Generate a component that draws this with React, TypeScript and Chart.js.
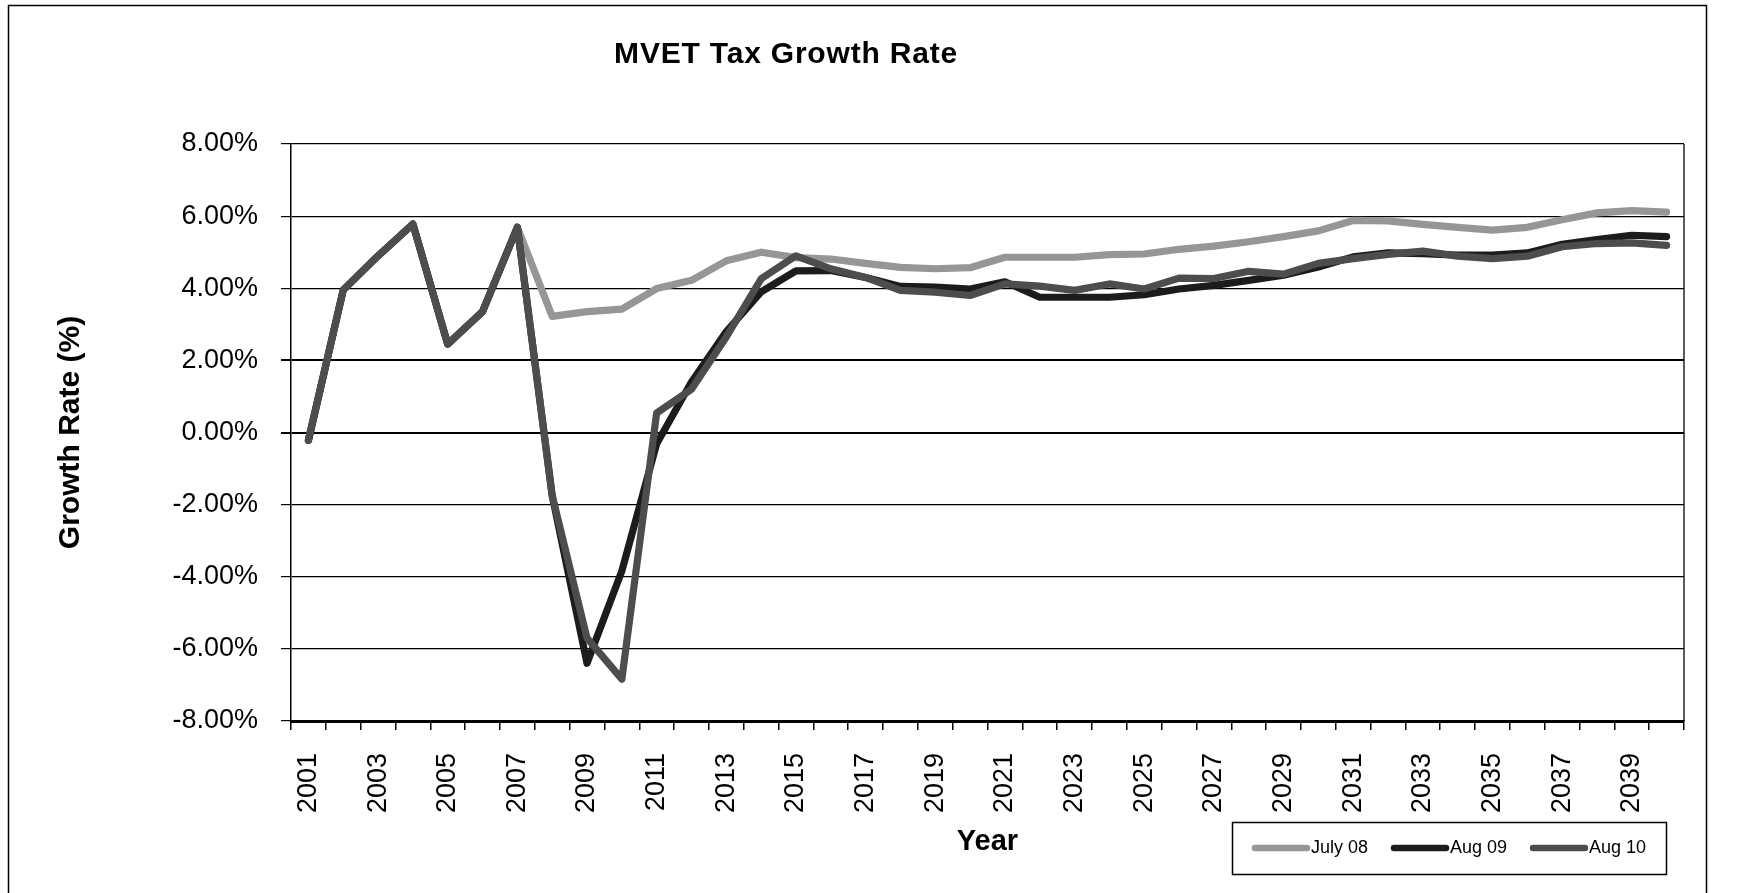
import React, { useEffect, useRef } from 'react';
import { Chart, registerables } from 'chart.js';

Chart.register(...registerables);

const FONT = '"Liberation Sans", Arial, Helvetica, sans-serif';

const chartTitle = 'MVET Tax Growth Rate';
const xTitle = 'Year';
const yTitle = 'Growth Rate (%)';

const years = [
  '2001', '2002', '2003', '2004', '2005', '2006', '2007', '2008', '2009', '2010',
  '2011', '2012', '2013', '2014', '2015', '2016', '2017', '2018', '2019', '2020',
  '2021', '2022', '2023', '2024', '2025', '2026', '2027', '2028', '2029', '2030',
  '2031', '2032', '2033', '2034', '2035', '2036', '2037', '2038', '2039', '2040',
];

const july08 = [
  -0.22, 3.95, 4.9, 5.78, 2.45, 3.35, 5.69, 3.22, 3.35, 3.42,
  3.99, 4.22, 4.76, 5.0, 4.85, 4.81, 4.69, 4.58, 4.54, 4.57,
  4.86, 4.86, 4.86, 4.93, 4.95, 5.08, 5.17, 5.29, 5.43, 5.59,
  5.88, 5.87, 5.77, 5.69, 5.61, 5.69, 5.9, 6.09, 6.15, 6.11,
];

const aug09 = [
  -0.22, 3.95, 4.9, 5.78, 2.45, 3.35, 5.69, -1.75, -6.4, -3.84,
  -0.31, 1.4, 2.8, 3.9, 4.48, 4.49, 4.3, 4.05, 4.03, 3.98,
  4.18, 3.75, 3.75, 3.75, 3.82, 3.98, 4.08, 4.22, 4.36, 4.59,
  4.87, 4.98, 4.96, 4.92, 4.92, 4.98, 5.22, 5.35, 5.47, 5.43,
];

const aug10 = [
  -0.22, 3.95, 4.9, 5.78, 2.45, 3.35, 5.69, -1.75, -5.7, -6.84,
  0.54, 1.2, 2.65, 4.26, 4.9, 4.54, 4.3, 3.94, 3.89, 3.8,
  4.12, 4.06, 3.94, 4.12, 3.98, 4.28, 4.27, 4.47, 4.39, 4.69,
  4.82, 4.94, 5.03, 4.89, 4.82, 4.89, 5.15, 5.24, 5.26, 5.19,
];

const seriesNames = ['July 08', 'Aug 09', 'Aug 10'];
const seriesColors = ['#969696', '#1c1c1c', '#4d4d4d'];

const yMin = -8;
const yMax = 8;
const yStep = 2;

const decorPlugin = {
  id: 'decor',
  beforeDraw(chart: any) {
    const ctx = chart.ctx;
    ctx.save();
    ctx.fillStyle = '#ffffff';
    ctx.fillRect(0, 0, chart.width, chart.height);
    ctx.strokeStyle = '#000';
    ctx.lineWidth = 1.5;
    ctx.beginPath();
    ctx.moveTo(8.5, chart.height + 5);
    ctx.lineTo(8.5, 5.5);
    ctx.lineTo(1706.5, 5.5);
    ctx.lineTo(1706.5, chart.height + 5);
    ctx.stroke();
    ctx.restore();
  },
  beforeDatasetsDraw(chart: any) {
    const ctx = chart.ctx;
    const { top, right, bottom } = chart.chartArea;
    ctx.save();
    ctx.strokeStyle = '#000';
    ctx.lineWidth = 1.3;
    ctx.beginPath();
    ctx.moveTo(right, top);
    ctx.lineTo(right, bottom);
    ctx.stroke();
    ctx.restore();
  },
  afterDraw(chart: any) {
    const ctx = chart.ctx;
    ctx.save();
    // title
    ctx.fillStyle = '#000';
    ctx.font = `bold 30px ${FONT}`;
    try { (ctx as any).letterSpacing = '0.8px'; } catch (e) {}
    ctx.textAlign = 'center';
    ctx.textBaseline = 'alphabetic';
    ctx.fillText(chartTitle, 786, 63);
    try { (ctx as any).letterSpacing = '0px'; } catch (e) {}

    // legend box
    const bx = 1232, by = 822, bw = 434, bh = 52;
    ctx.strokeStyle = '#000';
    ctx.lineWidth = 1.5;
    ctx.strokeRect(bx + 0.5, by + 0.5, bw, bh);
    const cy = by + bh / 2;
    ctx.font = `18px ${FONT}`;
    ctx.textAlign = 'left';
    ctx.textBaseline = 'middle';
    chart.data.datasets.forEach((ds: any, i: number) => {
      const sx = 1255 + i * 139;
      ctx.strokeStyle = ds.borderColor;
      ctx.lineWidth = 6.5;
      ctx.lineCap = 'round';
      ctx.beginPath();
      ctx.moveTo(sx, cy);
      ctx.lineTo(sx + 52, cy);
      ctx.stroke();
      ctx.fillStyle = '#000';
      ctx.fillText(ds.label, sx + 56, cy);
    });
    ctx.restore();
  },
};

export default function App() {
  const canvasRef = useRef<HTMLCanvasElement | null>(null);

  useEffect(() => {
    if (!canvasRef.current) return;
    Chart.defaults.font.family = FONT;
    const seriesData = [july08, aug09, aug10];
    const chart = new Chart(canvasRef.current, {
      type: 'line',
      data: {
        labels: years,
        datasets: seriesNames.map((name, i) => ({
          label: name,
          data: seriesData[i],
          borderColor: seriesColors[i],
          backgroundColor: seriesColors[i],
          borderWidth: 7.2,
          pointRadius: 0,
          tension: 0,
          fill: false,
          borderJoinStyle: 'round',
          borderCapStyle: 'round',
          order: 3 - i,
        })),
      },
      options: {
        animation: false,
        responsive: false,
        maintainAspectRatio: false,
        events: [],
        layout: { padding: { top: 144, right: 53, left: 0, bottom: 0 } },
        plugins: {
          legend: { display: false },
          title: { display: false },
          tooltip: { enabled: false },
        },
        scales: {
          x: {
            type: 'category',
            offset: true,
            grid: {
              display: true,
              drawOnChartArea: false,
              drawTicks: true,
              tickLength: 9,
              color: '#000',
              lineWidth: 1.5,
              offset: true,
            },
            border: { display: true, color: '#000', width: 3 },
            ticks: {
              autoSkip: false,
              maxRotation: 90,
              minRotation: 90,
              padding: 23,
              color: '#000',
              font: { family: FONT, size: 27 },
              callback: (_v: any, i: number) => (i % 2 === 0 ? years[i] : ''),
            },
            title: {
              display: true,
              text: xTitle,
              color: '#000',
              font: { family: FONT, size: 29, weight: 'bold' },
              padding: { top: 0, bottom: 34 },
            },
            afterFit: (s: any) => { s.height = 172; },
          },
          y: {
            min: yMin,
            max: yMax,
            ticks: {
              stepSize: yStep,
              padding: 23,
              color: '#000',
              font: { family: FONT, size: 27 },
              callback: (v: any) => Number(v).toFixed(2) + '%',
            },
            grid: {
              color: '#000',
              lineWidth: (c: any) => (c.tick && (c.tick.value === 0 || c.tick.value === 2) ? 2 : 1.2),
              tickLength: 10,
              drawTicks: true,
            },
            border: { display: true, color: '#000', width: 1.5 },
            title: {
              display: true,
              text: yTitle,
              color: '#000',
              font: { family: FONT, size: 30, weight: 'bold' },
              padding: { top: 53, bottom: 0 },
            },
            afterFit: (s: any) => { s.width = 291; },
          },
        },
      } as any,
      plugins: [decorPlugin],
    });
    return () => chart.destroy();
  }, []);

  return (
    <canvas
      ref={canvasRef}
      width={1737}
      height={893}
      style={{ position: 'absolute', left: 0, top: 0, width: '1737px', height: '893px', display: 'block' }}
    />
  );
}
